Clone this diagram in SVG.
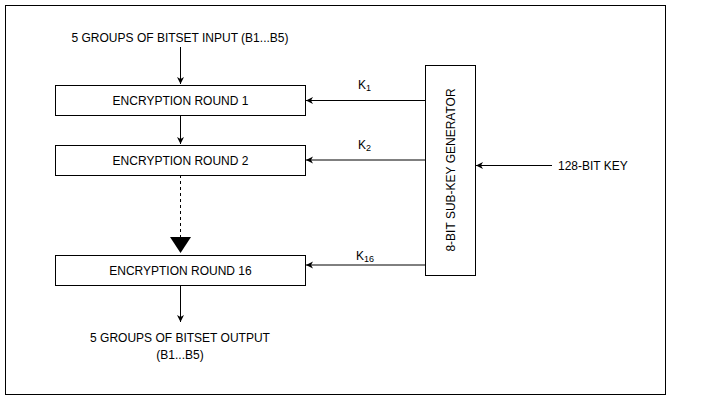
<svg xmlns="http://www.w3.org/2000/svg" width="701" height="401" viewBox="0 0 701 401">
<style>
text{font-family:"Liberation Sans",Arial,sans-serif;font-size:12px;fill:#000}
.box{fill:#fff;stroke:#000;stroke-width:1}
.ln{fill:none;stroke:#000;stroke-width:1}
.sub{font-size:9px}
</style>
<defs>
<marker id="ah" viewBox="0 0 8 8" refX="7" refY="4" markerWidth="8" markerHeight="8" markerUnits="userSpaceOnUse" orient="auto">
<path d="M0,0.5 L7,4 L0,7.5 L2,4 Z" fill="#000"/>
</marker>
<marker id="big" viewBox="0 0 16 22" refX="16" refY="11" markerWidth="16" markerHeight="22" markerUnits="userSpaceOnUse" orient="auto">
<path d="M0,0.5 L16,11 L0,21.5 Z" fill="#000"/>
</marker>
</defs>
<rect x="5.5" y="5.5" width="660" height="389" fill="#fff" stroke="#000"/>
<g id="connectors">
<line class="ln" x1="180.5" y1="47" x2="180.5" y2="84" marker-end="url(#ah)"/>
<line class="ln" x1="180.5" y1="115" x2="180.5" y2="144" marker-end="url(#ah)"/>
<line class="ln" x1="180.5" y1="175" x2="180.5" y2="253" stroke-dasharray="3,3" marker-end="url(#big)"/>
<line class="ln" x1="180.5" y1="285" x2="180.5" y2="322" marker-end="url(#ah)"/>
<line class="ln" x1="425" y1="100.5" x2="306" y2="100.5" marker-end="url(#ah)"/>
<line class="ln" x1="425" y1="160" x2="306" y2="160" marker-end="url(#ah)"/>
<line class="ln" x1="425" y1="265" x2="306" y2="265" marker-end="url(#ah)"/>
<line class="ln" x1="552" y1="165.5" x2="476" y2="165.5" marker-end="url(#ah)"/>
</g>
<g id="input"><text x="180" y="42" text-anchor="middle">5 GROUPS OF BITSET INPUT (B1...B5)</text></g>
<g id="round1"><rect class="box" x="55.5" y="85.5" width="250" height="30"/><text x="180.5" y="104.5" text-anchor="middle">ENCRYPTION ROUND 1</text></g>
<g id="round2"><rect class="box" x="55.5" y="145.5" width="250" height="30"/><text x="180.5" y="164.5" text-anchor="middle">ENCRYPTION ROUND 2</text></g>
<g id="round16"><rect class="box" x="55.5" y="255.5" width="250" height="30"/><text x="180.5" y="274.5" text-anchor="middle">ENCRYPTION ROUND 16</text></g>
<g id="output"><text x="180" y="342" text-anchor="middle">5 GROUPS OF BITSET OUTPUT</text><text x="180" y="359" text-anchor="middle">(B1...B5)</text></g>
<g id="generator"><rect class="box" x="425.5" y="65.5" width="50" height="210"/><text transform="translate(454.5,170) rotate(-90)" text-anchor="middle">8-BIT SUB-KEY GENERATOR</text></g>
<g id="key"><text x="558" y="170">128-BIT KEY</text></g>
<g id="labels">
<text x="358" y="89">K<tspan class="sub" dy="2">1</tspan></text>
<text x="358" y="149">K<tspan class="sub" dy="2">2</tspan></text>
<text x="356" y="260">K<tspan class="sub" dy="2">16</tspan></text>
</g>
</svg>
